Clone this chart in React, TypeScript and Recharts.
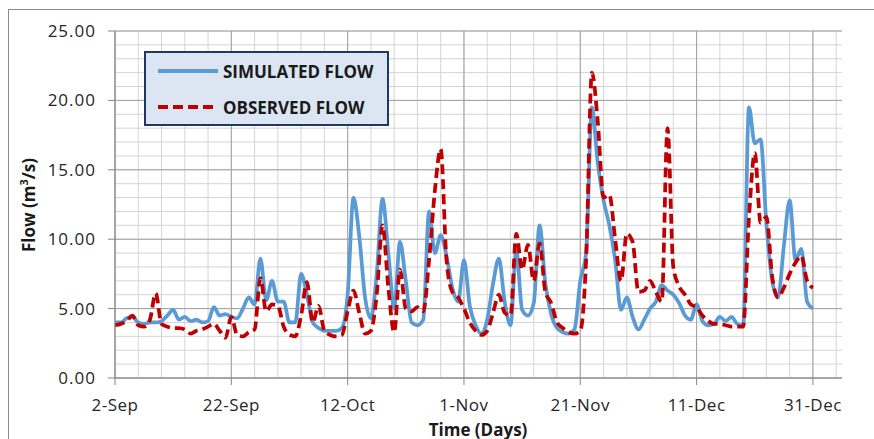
import { LineChart, Line, XAxis, YAxis, ReferenceLine, Legend } from "recharts";

// x = days since 2-Sep
const dayTicks = [0, 20, 40, 60, 80, 100, 120];
const dayLabels = ["2-Sep", "22-Sep", "12-Oct", "1-Nov", "21-Nov", "11-Dec", "31-Dec"];
const flowTicks = [0, 5, 10, 15, 20, 25];
const minorDays = [
  0, 4, 8, 12, 16, 20, 24, 28, 32, 36, 40, 44, 48, 52, 56, 60, 64, 68, 72, 76, 80, 84, 88, 92, 96,
  100, 104, 108, 112, 116, 120, 124,
];
const minorFlows = [
  0, 1, 2, 3, 4, 5, 6, 7, 8, 9, 10, 11, 12, 13, 14, 15, 16, 17, 18, 19, 20, 21, 22, 23, 24, 25,
];
const seriesOrder = ["simulated", "observed"];

const simulatedFlow = [
  4.0, 4.0, 4.3, 4.4, 4.0, 3.9, 4.0, 4.0, 4.1, 4.5,
  4.9, 4.2, 4.4, 4.1, 4.2, 4.0, 4.1, 5.1, 4.5, 4.6,
  4.4, 4.3, 5.0, 5.8, 5.3, 8.6, 5.6, 7.0, 5.5, 5.5,
  4.0, 4.0, 7.5, 6.0, 4.0, 3.6, 3.4, 3.4, 3.4, 3.6,
  6.0, 13.0, 10.2, 5.8, 4.3, 7.5, 12.9, 9.0, 5.0, 9.8,
  7.0, 4.0, 3.8, 4.2, 12.0, 9.0, 10.3, 8.8, 6.5, 5.5,
  8.5, 5.2, 3.8, 3.2, 4.2, 6.8, 8.6, 5.5, 3.8, 9.2,
  4.9, 4.5, 5.4, 11.0, 6.8, 4.6, 3.6, 3.3, 3.2, 3.5,
  7.0, 9.0, 19.5, 15.5, 12.8, 11.0, 8.5, 4.9, 5.8, 4.4,
  3.5, 4.2, 5.0, 5.5, 6.7, 6.3, 6.0, 5.4, 4.5, 4.2,
  5.3, 4.1, 3.8, 3.9, 4.4, 4.1, 4.4, 3.9, 3.8, 19.5,
  16.9, 17.2, 11.1, 7.0, 5.8, 9.5, 12.8, 8.5, 9.3, 5.5,
  5.0,
];

const observedFlow = [
  3.8, 3.9, 4.1, 4.5, 3.8, 3.7, 4.2, 6.1, 3.9, 3.7,
  3.6, 3.6, 3.5, 3.2, 3.4, 3.5, 3.7, 3.9, 3.4, 2.9,
  4.4, 3.1, 3.0, 3.3, 3.5, 7.2, 4.8, 5.3, 5.2, 3.7,
  3.1, 3.0, 4.5, 6.9, 4.0, 5.2, 3.4, 3.1, 3.0, 3.1,
  4.8, 6.3, 4.7, 3.2, 3.4, 6.0, 11.0, 6.5, 3.3, 7.8,
  5.0, 4.8, 5.1, 4.8, 8.5, 13.5, 16.5, 8.5, 6.2, 5.8,
  5.0, 4.0, 3.4, 3.1, 3.4, 4.7, 6.0, 4.7, 4.5, 10.4,
  7.8, 9.6, 7.0, 9.7, 6.2, 5.4, 4.0, 3.6, 3.3, 3.2,
  3.4, 8.5, 22.0, 18.5, 13.0, 13.2, 10.0, 7.0, 10.4, 9.8,
  6.2, 6.3, 7.0, 6.2, 5.5, 18.0, 8.0, 6.6, 6.0, 5.3,
  5.1, 4.5, 4.1, 3.9, 3.9, 3.8, 3.7, 3.7, 3.7, 11.5,
  16.2, 11.2, 11.6, 7.3, 5.8, 6.5, 7.5, 8.3, 8.8, 7.0,
  6.5,
];

const data = simulatedFlow.map((v, i) => ({
  day: i,
  simulated: v,
  observed: observedFlow[i],
}));

const FONT = "'Open Sans', sans-serif";

const LegendBox = ({ payload }: any) => {
  const items = [...(payload || [])].sort(
    (a: any, b: any) => seriesOrder.indexOf(a.dataKey) - seriesOrder.indexOf(b.dataKey),
  );
  return (
    <div
      style={{
        width: 245,
        height: 75,
        boxSizing: "border-box",
        background: "#DCE6F2",
        border: "2px solid #1F3864",
        paddingTop: 0,
      }}
    >
      {items.map((entry: any) => (
        <div
          key={entry.value}
          style={{ display: "flex", alignItems: "center", height: 36, marginLeft: 12 }}
        >
          <svg width={62} height={8}>
            <line
              x1={0}
              y1={4}
              x2={60}
              y2={4}
              stroke={entry.color}
              strokeWidth={4}
              strokeDasharray={entry.payload?.strokeDasharray}
            />
          </svg>
          <span
            style={{
              marginLeft: 3,
              fontFamily: FONT,
              fontWeight: 700,
              fontSize: 17,
              color: "#1a1a1a",
            }}
          >
            {entry.value}
          </span>
        </div>
      ))}
    </div>
  );
};

export default function App() {
  return (
    <div
      style={{
        position: "absolute",
        left: 0,
        top: 0,
        width: 874,
        height: 439,
        background: "#fff",
        overflow: "hidden",
      }}
    >
      <div
        style={{
          position: "absolute",
          left: 8,
          top: 9,
          width: 900,
          height: 460,
          borderLeft: "1px solid #8c8c8c",
          borderTop: "1px solid #8c8c8c",
        }}
      />
      <LineChart
        width={874}
        height={439}
        data={data}
        margin={{ top: 31, right: 32, bottom: 0, left: 0 }}
        style={{ position: "absolute", left: 0, top: 0 }}
      >
        {minorDays.map((d) => (
          <ReferenceLine key={"vx" + d} x={d} stroke="#d4d4d4" strokeWidth={1} />
        ))}
        {minorFlows.map((f) => (
          <ReferenceLine key={"hy" + f} y={f} stroke="#d4d4d4" strokeWidth={1} />
        ))}
        {dayTicks.map((d) => (
          <ReferenceLine key={"VX" + d} x={d} stroke="#a0a0a0" strokeWidth={1} />
        ))}
        {flowTicks.map((f) => (
          <ReferenceLine key={"HY" + f} y={f} stroke="#a0a0a0" strokeWidth={1} />
        ))}
        <XAxis
          dataKey="day"
          type="number"
          domain={[0, 125]}
          ticks={dayTicks}
          interval={0}
          tickFormatter={(v) => dayLabels[dayTicks.indexOf(v)]}
          height={61}
          tickSize={7}
          tickMargin={14}
          axisLine={{ stroke: "#868686" }}
          tickLine={{ stroke: "#868686" }}
          tick={{ fill: "#262626", fontSize: 17, fontFamily: FONT, letterSpacing: 0.5 }}
        />
        <YAxis
          type="number"
          domain={[0, 25]}
          ticks={flowTicks}
          interval={0}
          tickFormatter={(v) => v.toFixed(2)}
          width={115}
          tickSize={7}
          tickMargin={12}
          axisLine={{ stroke: "#868686" }}
          tickLine={{ stroke: "#868686" }}
          tick={{ fill: "#262626", fontSize: 17, fontFamily: FONT, letterSpacing: 1 }}
        />
        <Legend
          layout="horizontal"
          verticalAlign="middle"
          align="center"
          wrapperStyle={{ left: 144, top: 51, width: 245, height: 75 }}
          content={<LegendBox />}
        />
        <Line
          name="SIMULATED FLOW"
          type="monotone"
          dataKey="simulated"
          stroke="#5B9BD5"
          strokeWidth={3.75}
          dot={false}
          activeDot={false}
          isAnimationActive={false}
        />
        <Line
          name="OBSERVED FLOW"
          type="monotone"
          dataKey="observed"
          stroke="#C00000"
          strokeWidth={3.75}
          strokeDasharray="10 5"
          dot={false}
          activeDot={false}
          isAnimationActive={false}
        />
      </LineChart>
      <div
        style={{
          position: "absolute",
          left: 28,
          top: 205,
          transform: "translate(-50%, -50%) rotate(-90deg)",
          fontFamily: FONT,
          fontWeight: 700,
          fontSize: 17,
          color: "#1a1a1a",
          whiteSpace: "nowrap",
        }}
      >
        Flow (m<sup style={{ fontSize: 11, lineHeight: 0 }}>3</sup>/s)
      </div>
      <div
        style={{
          position: "absolute",
          left: 478,
          top: 429,
          transform: "translate(-50%, -50%)",
          fontFamily: FONT,
          fontWeight: 700,
          fontSize: 17,
          color: "#1a1a1a",
          whiteSpace: "nowrap",
        }}
      >
        Time (Days)
      </div>
    </div>
  );
}
